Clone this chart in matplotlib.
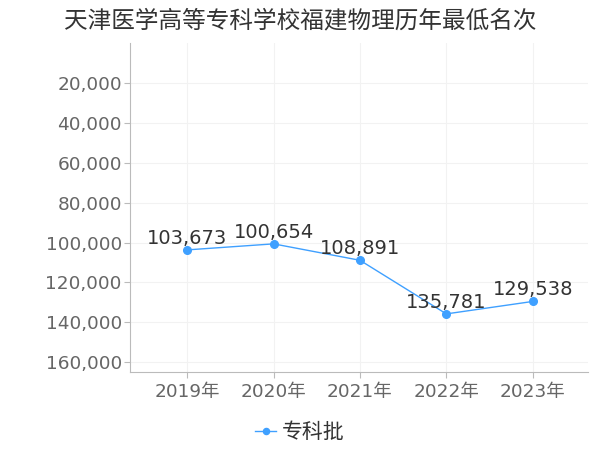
import matplotlib as mpl
import matplotlib.pyplot as plt
from matplotlib.ticker import FuncFormatter

years = ["2019年", "2020年", "2021年", "2022年", "2023年"]
ranks = [103673, 100654, 108891, 135781, 129538]
series_name = "专科批"
title = "天津医学高等专科学校福建物理历年最低名次"
y_ticks = [20000, 40000, 60000, 80000, 100000, 120000, 140000, 160000]

mpl.rcParams["font.family"] = ["DejaVu Sans", "Noto Sans CJK SC"]

LINE = "#3fa0ff"

fig = plt.figure(figsize=(6, 4.5), dpi=100)
ax = fig.add_axes([0.217, 0.173, 0.763, 0.731])

x = list(range(len(years)))
ax.plot(x, ranks, color=LINE, linewidth=1, marker="o", markersize=5.5,
        label=series_name, zorder=3)

for xi, v in zip(x, ranks):
    ax.annotate(f"{v:,}", (xi, v), xytext=(0, 1.5), textcoords="offset points",
                ha="center", va="bottom", fontsize=14, color="#333333", zorder=4)

ax.set_xlim(-0.66, 4.64)
ax.set_ylim(165000, 0)
ax.set_yticks(y_ticks)
ax.yaxis.set_major_formatter(FuncFormatter(lambda v, p: f"{int(v):,}"))
ax.set_xticks(x)
ax.set_xticklabels(years)

ax.grid(True, color="#f2f2f2", linewidth=0.8, zorder=0)
ax.set_axisbelow(True)
for side in ["top", "right"]:
    ax.spines[side].set_visible(False)
for side in ["left", "bottom"]:
    ax.spines[side].set_color("#bbbbbb")
ax.tick_params(axis="both", colors="#bbbbbb", labelcolor="#666666", labelsize=13.3, length=4)
ax.tick_params(axis="y", pad=2)

fig.text(0.5, 0.955, title, ha="center", va="center", fontsize=17, color="#333333")

fig.legend(loc="center", bbox_to_anchor=(0.5, 0.04), frameon=False, fontsize=15,
           handlelength=1.0, handletextpad=0.3, labelcolor="#333333", markerscale=0.8)

fig.savefig("out.png", dpi=100)
